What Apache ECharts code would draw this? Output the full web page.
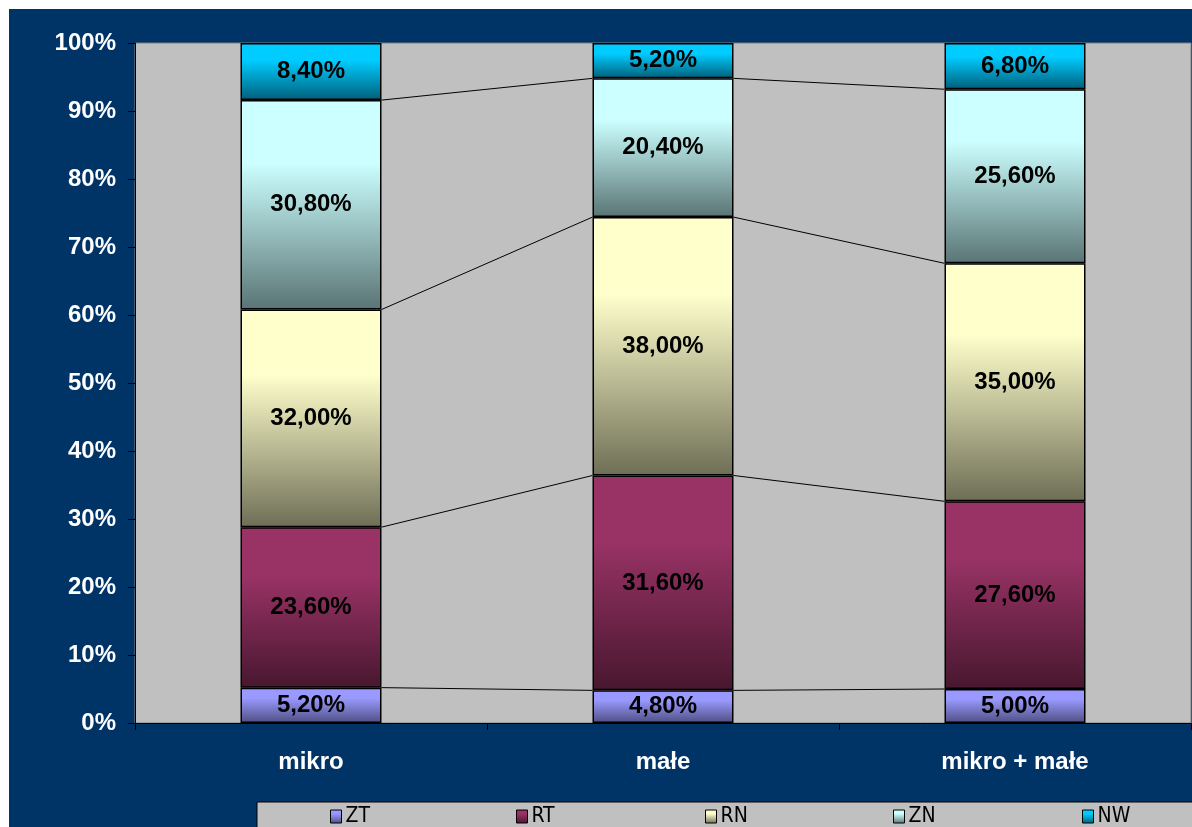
<!DOCTYPE html>
<html>
<head>
<meta charset="utf-8">
<script src="https://cdn.jsdelivr.net/npm/echarts@6/dist/echarts.min.js"></script>
<style>
html,body{margin:0;padding:0;background:#fff;}
#chart{width:1192px;height:827px;}
</style>
</head>
<body>
<div id="chart"></div>
<script>
var categories = ['mikro', 'małe', 'mikro + małe'];
var seriesNames = ['ZT', 'RT', 'RN', 'ZN', 'NW'];
var ZT = [5.2, 4.8, 5.0];
var RT = [23.6, 31.6, 27.6];
var RN = [32.0, 38.0, 35.0];
var ZN = [30.8, 20.4, 25.6];
var NW = [8.4, 5.2, 6.8];
var yTicks = [0, 10, 20, 30, 40, 50, 60, 70, 80, 90, 100];

var seriesData = [ZT, RT, RN, ZN, NW];
var gradTop = ['#9999FF', '#993366', '#FFFFCC', '#CCFFFF', '#00CCFF'];
var gradBot = ['#4E4E82', '#48172F', '#6E6E56', '#5A7474', '#005F7A'];
var FONT = '"Liberation Sans", Arial, sans-serif';
var BAR_W = 141;

function grad(i) {
  return new echarts.graphic.LinearGradient(0, 0, 0, 1, [
    {offset: 0, color: gradTop[i]},
    {offset: 0.3, color: gradTop[i]},
    {offset: 1, color: gradBot[i]}
  ]);
}

var series = seriesData.map(function (d, i) {
  return {
    name: seriesNames[i],
    type: 'bar',
    stack: 'total',
    barWidth: BAR_W,
    data: d,
    itemStyle: {color: grad(i), borderColor: '#000', borderWidth: 1.5},
    label: {
      show: true,
      position: 'inside',
      color: '#000',
      fontFamily: FONT,
      fontWeight: 'bold',
      fontSize: 24,
      formatter: function (p) { return p.value.toFixed(2).replace('.', ',') + '%'; }
    },
    emphasis: {disabled: true}
  };
});

// series lines connecting segment tops between neighbouring bars
series.push({
  type: 'custom',
  name: 'lines',
  z: 1,
  silent: true,
  data: [[0], [1]],
  renderItem: function (params, api) {
    var i = api.value(0);
    var children = [];
    var cumA = 0, cumB = 0;
    for (var s = 0; s < seriesData.length - 1; s++) {
      cumA += seriesData[s][i];
      cumB += seriesData[s][i + 1];
      var p1 = api.coord([i, cumA]);
      var p2 = api.coord([i + 1, cumB]);
      children.push({
        type: 'line',
        shape: {x1: p1[0] + BAR_W / 2, y1: p1[1], x2: p2[0] - BAR_W / 2, y2: p2[1]},
        style: {stroke: '#000', lineWidth: 1}
      });
    }
    return {type: 'group', children: children};
  }
});

var legendLefts = [330, 516, 705, 893, 1082];
var legends = seriesNames.map(function (n, i) {
  return {
    data: [n],
    left: legendLefts[i],
    top: 806,
    itemWidth: 11,
    itemHeight: 13,
    itemGap: 4,
    padding: 0,
    icon: 'rect',
    itemStyle: {borderColor: '#000', borderWidth: 1},
    textStyle: {color: '#000', fontSize: 21, fontFamily: '"DejaVu Sans Condensed", "DejaVu Sans", sans-serif', padding: [0, 0, 0, -1]},
    selectedMode: false
  };
});

var chart = echarts.init(document.getElementById('chart'), null, {renderer: 'canvas'});
chart.setOption({
  backgroundColor: '#ffffff',
  animation: false,
  graphic: [
    {type: 'rect', z: -10, shape: {x: 9, y: 9, width: 1200, height: 830}, style: {fill: '#003366'}},
    {type: 'rect', z: -5, shape: {x: 257, y: 802, width: 1000, height: 40}, style: {fill: '#C0C0C0', stroke: '#000', lineWidth: 1}}
  ],
  grid: {
    left: 135, top: 43, right: 1, bottom: 104,
    show: true, backgroundColor: '#C0C0C0', borderColor: '#808080', borderWidth: 1
  },
  legend: legends,
  xAxis: {
    type: 'category',
    data: categories,
    axisLine: {show: true, lineStyle: {color: '#000', width: 1}},
    axisTick: {show: true, length: 7, lineStyle: {color: '#000'}},
    axisLabel: {color: '#fff', fontFamily: FONT, fontWeight: 'bold', fontSize: 24, margin: 27}
  },
  yAxis: {
    type: 'value',
    min: 0, max: 100, interval: 10,
    axisLine: {show: true, lineStyle: {color: '#000', width: 1}},
    axisTick: {show: true, length: 7, lineStyle: {color: '#000'}},
    splitLine: {show: false},
    axisLabel: {
      color: '#fff', fontFamily: FONT, fontWeight: 'bold', fontSize: 24, margin: 19,
      formatter: function (v) { return yTicks.indexOf(v) >= 0 ? v + '%' : ''; }
    }
  },
  series: series
});
</script>
</body>
</html>
